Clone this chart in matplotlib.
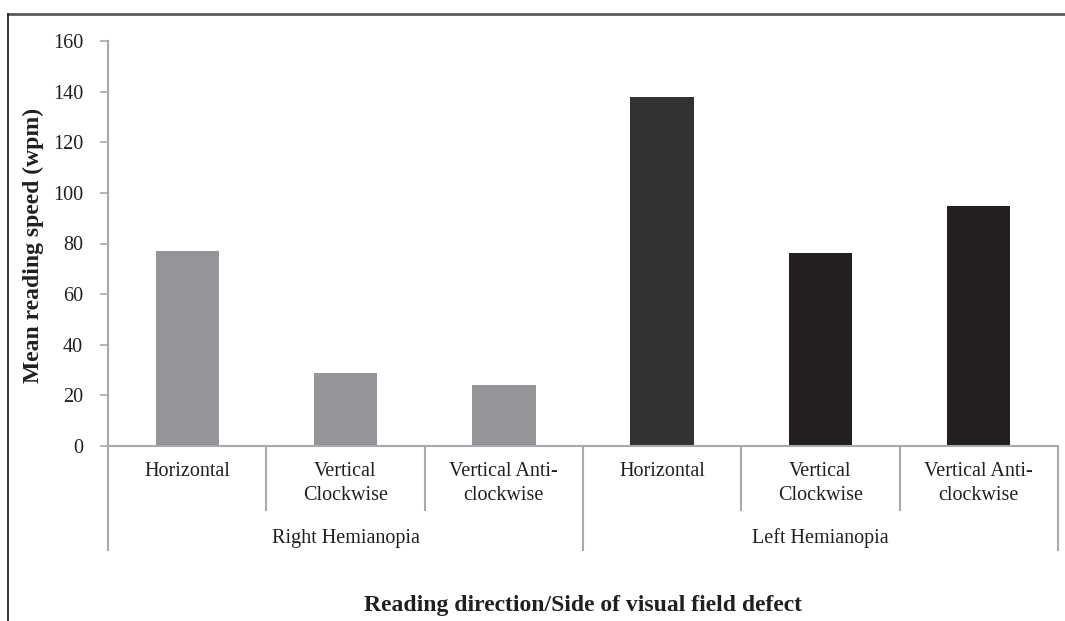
import matplotlib
matplotlib.use("Agg")
import matplotlib.pyplot as plt
from matplotlib.lines import Line2D
import matplotlib.transforms as mtransforms

# data
sub_labels = ["Horizontal", "Vertical\nClockwise", "Vertical Anti-\nclockwise",
              "Horizontal", "Vertical\nClockwise", "Vertical Anti-\nclockwise"]
group_labels = ["Right Hemianopia", "Left Hemianopia"]
speeds = [77, 28.8, 24, 137.8, 76.3, 94.8]
bar_colors = ["#939598", "#939598", "#939598", "#333132", "#231f20", "#231f20"]
yticks = [0, 20, 40, 60, 80, 100, 120, 140, 160]

W, H = 1065, 621
plt.rcParams['font.family'] = ['Liberation Serif', 'DejaVu Serif']
fig = plt.figure(figsize=(W / 100, H / 100), dpi=100)
ax = fig.add_axes([108 / W, (H - 446) / H, 950 / W, 405 / H])

x = list(range(len(speeds)))
ax.bar(x, speeds, width=0.4, color=bar_colors, zorder=2)
ax.set_xlim(-0.5, 5.5)
ax.set_ylim(0, 160)
ax.set_yticks(yticks)
ax.set_yticklabels([str(v) for v in yticks], fontsize=14.5, color="#231f20")
ax.tick_params(axis='y', direction='out', length=6, width=1.2, color="#a7a9ac", pad=12)
ax.set_xticks([])

for s in ['top', 'right']:
    ax.spines[s].set_visible(False)
for s in ['left', 'bottom']:
    ax.spines[s].set_color("#a7a9ac")
    ax.spines[s].set_linewidth(1.5)

trans = mtransforms.blended_transform_factory(ax.transData, ax.transAxes)
axh = 405.0
# separators between sub-categories
for xs in [0.5, 1.5, 3.5, 4.5]:
    ax.add_line(Line2D([xs, xs], [0, -64 / axh], transform=trans, color="#a7a9ac",
                       lw=1.5, clip_on=False))
# separators between groups
for xs in [-0.5, 2.5, 5.5]:
    ax.add_line(Line2D([xs, xs], [0, -104 / axh], transform=trans, color="#a7a9ac",
                       lw=1.5, clip_on=False))

for i, lab in enumerate(sub_labels):
    ax.text(i, -16 / axh, lab, transform=trans, ha='center', va='top',
            fontsize=14.5, color="#231f20", linespacing=1.35)
for g, lab in enumerate(group_labels):
    ax.text(g * 3 + 1, -92 / axh, lab, transform=trans, ha='center', va='center',
            fontsize=14.5, color="#231f20")

ax.text(0.5, -160 / axh, "Reading direction/Side of visual field defect", transform=ax.transAxes,
        ha='center', va='center', fontsize=17, fontweight='bold', color="#231f20")
fig.text(33 / W, 1 - 245 / H, "Mean reading speed (wpm)", rotation=90, ha='center', va='center',
         fontsize=17, fontweight='bold', color="#231f20")

# frame lines at the top and left of the picture
fig.add_artist(Line2D([8 / W, 1064 / W], [1 - 14 / H, 1 - 14 / H], color="#5a5a5a", lw=2))
fig.add_artist(Line2D([8 / W, 8 / W], [1 - 14 / H, 0], color="#231f20", lw=1.3))

fig.savefig("out.png", dpi=100, facecolor="white")
